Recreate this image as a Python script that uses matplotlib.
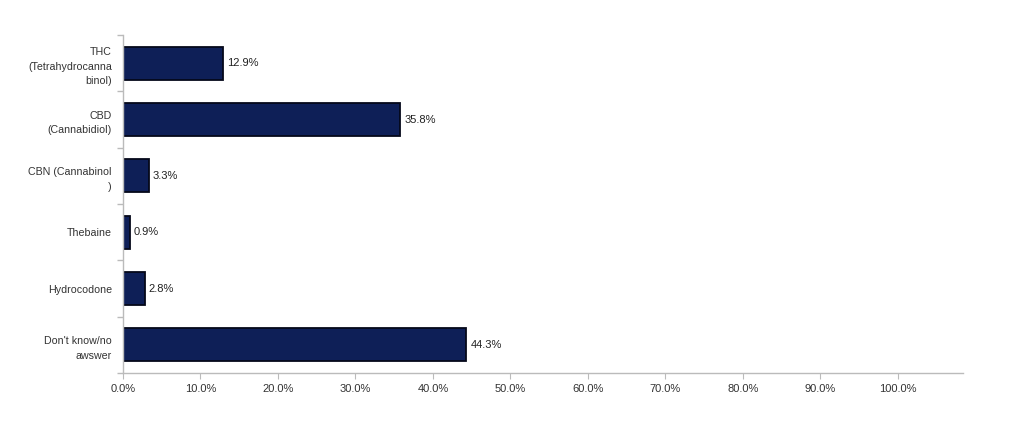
import matplotlib
matplotlib.use("Agg")
import matplotlib.pyplot as plt

categories = ["THC\n(Tetrahydrocanna\nbinol)", "CBD\n(Cannabidiol)", "CBN (Cannabinol\n)",
              "Thebaine", "Hydrocodone", "Don't know/no\nawswer"]
values = [12.9, 35.8, 3.3, 0.9, 2.8, 44.3]
xticks = [0, 10, 20, 30, 40, 50, 60, 70, 80, 90, 100]

plt.rcParams['font.family'] = ['Liberation Sans', 'DejaVu Sans']

fig = plt.figure(figsize=(10.24, 4.28), dpi=100)
ax = fig.add_axes([0.1201, 0.1285, 0.8203, 0.7897])

ypos = list(range(len(categories)))
ax.barh(ypos, values, height=0.59, color="#0e1f57", edgecolor="#05081a", linewidth=1.3)
ax.set_ylim(len(categories) - 0.5, -0.5)
ax.set_xlim(0, 108.4)

for y, v in zip(ypos, values):
    ax.annotate(f"{v:.1f}%", (v, y), xytext=(3, 0), textcoords="offset points",
                va="center", ha="left", fontsize=8, color="#222222")

ax.set_yticks(ypos)
ax.set_yticklabels(categories, fontsize=7.7, color="#333333", ha="right",
                   multialignment="right", linespacing=1.6)
ax.set_yticks([i + 0.5 for i in range(-1, len(categories))], minor=True)
ax.tick_params(axis="y", which="major", length=0, pad=8)
ax.tick_params(axis="y", which="minor", length=4, color="#bbbbbb", width=1)

ax.set_xticks(xticks)
ax.set_xticklabels([f"{t:.1f}%" for t in xticks], fontsize=8, color="#333333")
ax.tick_params(axis="x", length=4, color="#bbbbbb", pad=4)

for s in ["top", "right"]:
    ax.spines[s].set_visible(False)
for s in ["left", "bottom"]:
    ax.spines[s].set_color("#bbbbbb")
    ax.spines[s].set_linewidth(1)

fig.savefig("out.png", dpi=100, facecolor="white")
